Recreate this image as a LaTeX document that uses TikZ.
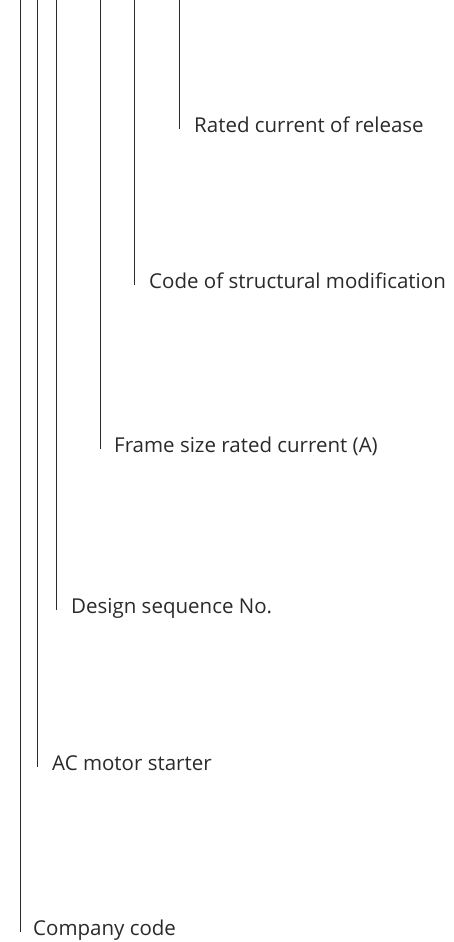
\documentclass[tikz,border=0pt]{standalone}
\usepackage{fontspec}
\setmainfont{Open Sans}
\definecolor{ink}{HTML}{2B2A29}
\begin{document}
\begin{tikzpicture}[x=1pt,y=-1pt,
  lead/.style={draw=ink,line width=0.9pt},
  lbl/.style={anchor=base west,inner sep=0pt,text=ink,font=\fontsize{20.5}{23}\selectfont}]
\useasboundingbox (0,0) rectangle (453,942);
\coordinate (t1) at (20,0);
\coordinate (t2) at (37.5,0);
\coordinate (t3) at (56.5,0);
\coordinate (t4) at (100.5,0);
\coordinate (t5) at (134.5,0);
\coordinate (t6) at (179.5,0);
\coordinate (b1) at (20,932);
\coordinate (b2) at (37.5,767);
\coordinate (b3) at (56.5,610);
\coordinate (b4) at (100.5,449);
\coordinate (b5) at (134.5,285);
\coordinate (b6) at (179.5,129);
\node[lbl] (l1) at (33,935) {Company code};
\node[lbl] (l2) at (52,770) {AC motor starter};
\node[lbl] (l3) at (71,613) {Design sequence No.};
\node[lbl] (l4) at (114,452) {Frame size rated current (A)};
\node[lbl] (l5) at (149,288) {Code of structural modification};
\node[lbl] (l6) at (194,132) {Rated current of release};
\draw[lead] (t1) -- (b1);
\draw[lead] (t2) -- (b2);
\draw[lead] (t3) -- (b3);
\draw[lead] (t4) -- (b4);
\draw[lead] (t5) -- (b5);
\draw[lead] (t6) -- (b6);
\end{tikzpicture}
\end{document}
